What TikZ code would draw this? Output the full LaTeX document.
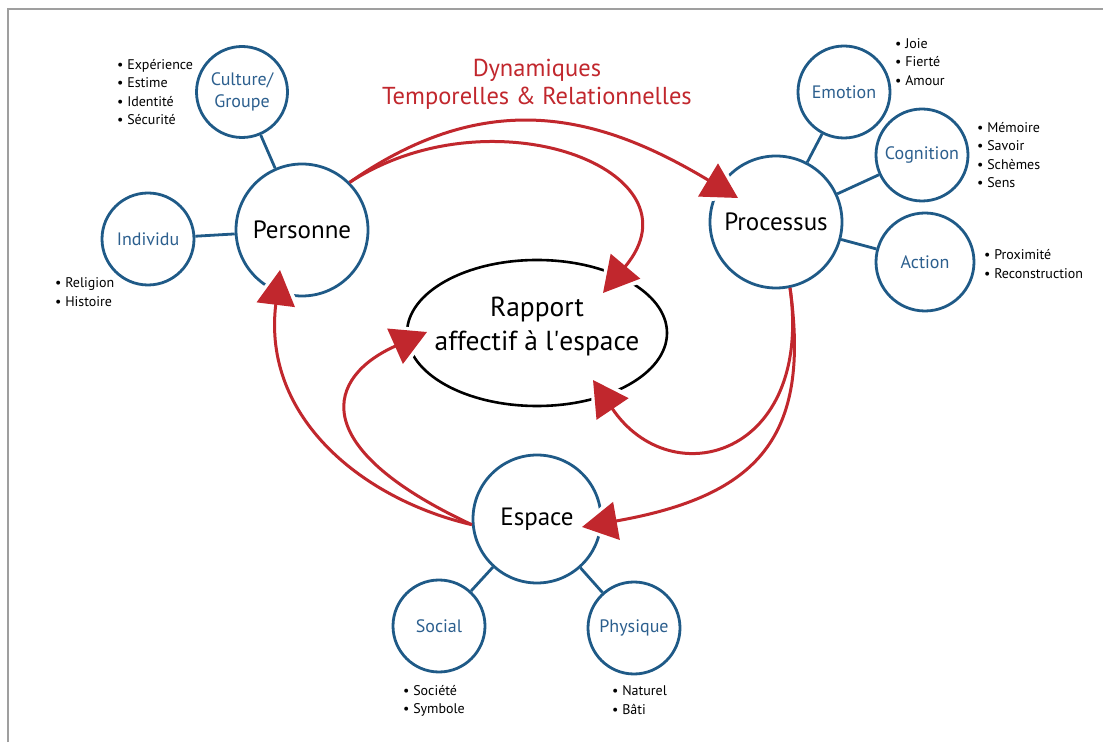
\documentclass[tikz,border=0pt]{standalone}
\usepackage{fontspec}
\setmainfont{PT Sans}
\usetikzlibrary{arrows.meta,shapes.geometric,calc}
\definecolor{ringblue}{HTML}{1F5A87}
\definecolor{labelblue}{HTML}{2C5F8E}
\definecolor{flowred}{HTML}{C1272D}
\begin{document}
\begin{tikzpicture}[x=1pt, y=1pt,
    hub/.style = {circle, draw=ringblue, line width=2.8pt, minimum size=132pt, inner sep=0pt, font=\fontsize{25}{25}\selectfont},
    ring/.style = {circle, draw=ringblue, line width=2.8pt, minimum size=92pt, inner sep=0pt, text=labelblue, align=center, font=\fontsize{18}{22}\selectfont},
    items/.style = {anchor=west, align=left, inner sep=0pt, font=\fontsize{14}{18.3}\selectfont},
    link/.style = {ringblue, line width=2.8pt},
    flow/.style = {flowred, line width=3pt, -{Triangle[length=35pt, width=38pt]}},
    halo/.style = {white, line width=8pt, shorten <=14pt, shorten >=-4pt, -{Triangle[length=47pt, width=58pt]}}]
\useasboundingbox (0,0) rectangle (1103,742);
\draw[gray!75, line width=2pt] (8,0) -- (8,733) -- (1103,733);

\node[text=flowred, align=center, font=\fontsize{24.5}{28}\selectfont] (T) at (537,658) {Dynamiques\\Temporelles \& Relationnelles};

\node[hub] (P)  at (302,512) {Personne};
\node[hub] (Pr) at (776,520) {Processus};
\node[hub, minimum size=128pt] (E) at (537,223) {Espace};

\node[ring, minimum size=91pt] (G) at (242,650) {Culture/\\Groupe};
\node[ring] (I)  at (148,503) {Individu};
\node[ring] (Em) at (844,650) {Emotion};
\node[ring] (Co) at (922,587) {Cognition};
\node[ring, minimum size=98pt] (Ac) at (925,480) {Action};
\node[ring] (So) at (439,116) {Social};
\node[ring] (Ph) at (634,114) {Physique};

\node[ellipse, draw, line width=2.6pt, minimum width=260pt, minimum height=146pt, inner xsep=-20pt, inner ysep=0pt, text depth=18pt, align=center, font=\fontsize{27.5}{34}\selectfont] (R) at (537,409) {Rapport\\affectif à l\textquotesingle espace};

\node[items] (lG)  at (117,650) {• Expérience\\• Estime\\• Identité\\• Sécurité};
\node[items] (lI)  at (55,450)  {• Religion\\• Histoire};
\node[items] (lEm) at (895,680) {• Joie\\• Fierté\\• Amour};
\node[items] (lCo) at (977,587) {• Mémoire\\• Savoir\\• Schèmes\\• Sens};
\node[items] (lAc) at (984,478) {• Proximité\\• Reconstruction};
\node[items] (lSo) at (403,41)  {• Société\\• Symbole};
\node[items] (lPh) at (612,42)  {• Naturel\\• Bâti};

\draw[link] (P) -- (G);
\draw[link] (P) -- (I);
\draw[link] (Pr) -- (Em);
\draw[link] (Pr) -- (Co);
\draw[link] (Pr) -- (Ac);
\draw[link] (E) -- (So);
\draw[link] (E) -- (Ph);

% white pass first, so the tips cut the rings
\foreach \pen in {halo, flow} {
  \draw[\pen] (P.45) .. controls +(35:170) and +(149:160) .. ($(Pr)+(-38,24)$);
  \draw[\pen] (P.45) .. controls +(33:170) and +(50:160) .. ($(R)+(66,40)$);
  \draw[\pen] (Pr.-78) .. controls +(-82:150) and +(10:180) .. ($(E)+(45,-8)$);
  \draw[\pen] (Pr.-78) .. controls +(-82:170) and +(-56:140) .. ($(R)+(56,-47)$);
  \draw[\pen] (E.185) .. controls +(167:110) and +(-97:150) .. ($(P)+(-22,-40)$);
  \draw[\pen] (E.185) .. controls +(155:185) and +(204:110) .. ($(R)+(-110,1)$);
}
\end{tikzpicture}
\end{document}
